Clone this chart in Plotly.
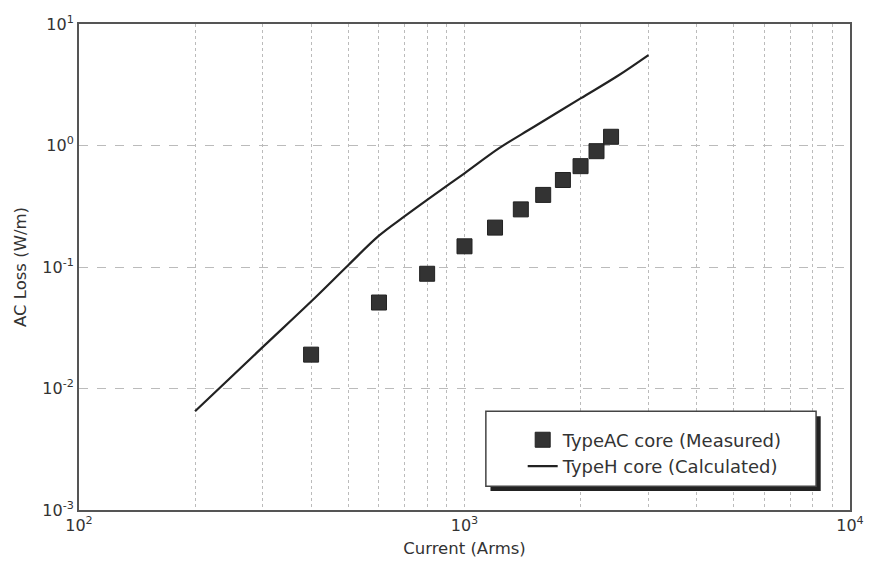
import plotly.graph_objects as go

# Data
meas_current = [400, 600, 800, 1000, 1200, 1400, 1600, 1800, 2000, 2200, 2400]
meas_loss = [0.019, 0.051, 0.088, 0.148, 0.211, 0.298, 0.392, 0.52, 0.676, 0.898, 1.18]

calc_current = [200, 300, 400, 500, 600, 700, 800, 1000, 1230, 1500, 2000, 2500, 3000]
calc_loss = [0.0065, 0.022, 0.052, 0.104, 0.181, 0.262, 0.357, 0.59, 0.95, 1.40, 2.44, 3.75, 5.55]

x_tickvals = [100, 1000, 10000]
x_ticktext = ["10<sup>2</sup>", "10<sup>3</sup>", "10<sup>4</sup>"]
x_minorvals = [200, 300, 400, 500, 600, 700, 800, 900,
               2000, 3000, 4000, 5000, 6000, 7000, 8000, 9000]
y_tickvals = [0.001, 0.01, 0.1, 1, 10]
y_ticktext = ["10<sup>-3</sup>", "10<sup>-2</sup>", "10<sup>-1</sup>", "10<sup>0</sup>", "10<sup>1</sup>"]

font_family = "DejaVu Sans, Verdana, sans-serif"
txt_color = "#333333"

fig = go.Figure()
fig.add_trace(go.Scatter(
    x=meas_current, y=meas_loss, mode="markers",
    name="TypeAC core (Measured)",
    marker=dict(symbol="square", size=15, color="#333333",
                line=dict(color="#222222", width=1)),
))
fig.add_trace(go.Scatter(
    x=calc_current, y=calc_loss, mode="lines",
    name="TypeH core (Calculated)",
    line=dict(color="#222222", width=2.2, shape="spline", smoothing=1.0),
))

axis_common = dict(
    type="log", showline=True, linecolor="#555555", linewidth=2, mirror=True,
    ticks="", zeroline=False,
    tickfont=dict(family=font_family, size=16, color=txt_color),
    gridcolor="#bbbbbb", gridwidth=1,
)

fig.update_xaxes(
    **axis_common, range=[2, 4], tickvals=x_tickvals, ticktext=x_ticktext,
    griddash="dot",
    title=dict(text="Current (Arms)", font=dict(family=font_family, size=16.5, color=txt_color), standoff=8),
    minor=dict(tickvals=x_minorvals, showgrid=True, gridcolor="#bbbbbb",
               griddash="dot", gridwidth=1, ticks=""),
)
fig.update_yaxes(
    **axis_common, range=[-3, 1], tickvals=y_tickvals, ticktext=y_ticktext,
    griddash="dash",
    title=dict(text="AC Loss (W/m)", font=dict(family=font_family, size=16.5, color=txt_color), standoff=12),
)

# legend box with shadow
fig.add_shape(type="rect", xref="paper", yref="paper",
              x0=0.5277 + 0.006, x1=0.956 + 0.006, y0=0.049 - 0.010, y1=0.203 - 0.010,
              fillcolor="#222222", line=dict(width=0), layer="above")
fig.add_shape(type="rect", xref="paper", yref="paper",
              x0=0.5277, x1=0.956, y0=0.049, y1=0.203,
              fillcolor="white", line=dict(color="#444444", width=1.5), layer="above")

fig.update_layout(
    width=876, height=567,
    margin=dict(l=79, r=22, t=24, b=55),
    plot_bgcolor="white", paper_bgcolor="white",
    font=dict(family=font_family, color=txt_color),
    showlegend=True,
    legend=dict(
        x=(525 - 79) / 775, y=0.182, xanchor="left", yanchor="top",
        bgcolor="rgba(0,0,0,0)", borderwidth=0,
        font=dict(family=font_family, size=18, color=txt_color),
        tracegroupgap=0, itemwidth=30,
    ),
)

fig.write_html("out.html")
